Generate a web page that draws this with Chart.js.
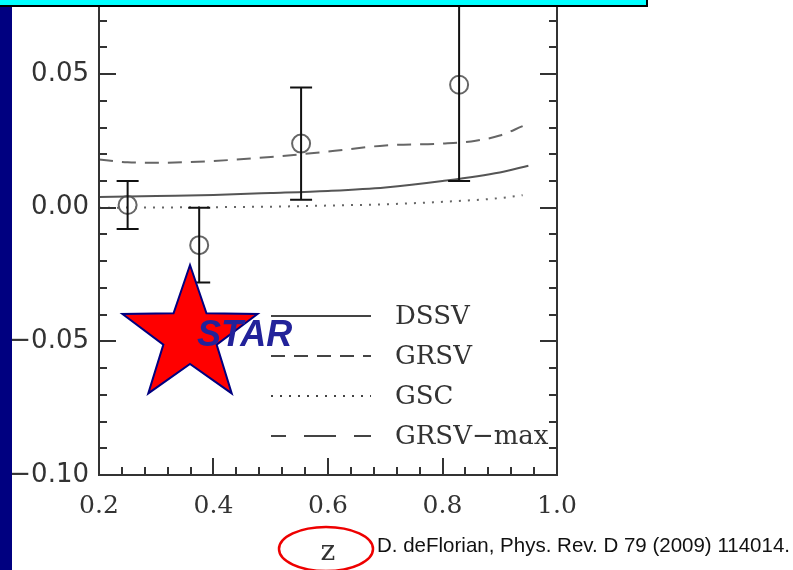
<!DOCTYPE html>
<html>
<head>
<meta charset="utf-8">
<script src="https://cdn.jsdelivr.net/npm/chart.js@4.4.1/dist/chart.umd.min.js"></script>
<style>
  html, body { margin: 0; padding: 0; background: #fff; }
  #wrap { position: relative; width: 793px; height: 570px; overflow: hidden; }
  #navy { position: absolute; left: 0; top: 0; width: 12px; height: 570px; background: #000080; }
  #banner { position: absolute; left: 0; top: 0; width: 646px; height: 5px; background: #00ffff;
            border-right: 2px solid #000; border-bottom: 2px solid #000; }
  canvas { position: absolute; left: 0; top: 0; }
</style>
</head>
<body>
<div id="wrap">
  <canvas id="myChart" width="793" height="570"></canvas>
  <div id="navy"></div>
  <div id="banner"></div>
</div>
<script>
// theory curves
const curveZ = [0.20, 0.25, 0.30, 0.40, 0.50, 0.60, 0.70, 0.80, 0.90, 0.95];
const dssv   = [0.0040, 0.0042, 0.0044, 0.0048, 0.0055, 0.0063, 0.0076, 0.0100, 0.0132, 0.0157];

const grsvZ = [0.20, 0.25, 0.30, 0.40, 0.50, 0.60, 0.70, 0.80, 0.85, 0.90, 0.94];
const grsv  = [0.0180, 0.0170, 0.0168, 0.0175, 0.0190, 0.0210, 0.0233, 0.0240, 0.0248, 0.0270, 0.0305];

const gscZ = [0.20, 0.30, 0.40, 0.50, 0.60, 0.70, 0.80, 0.90, 0.94];
const gsc  = [0.0000, 0.0001, 0.0002, 0.0004, 0.0008, 0.0013, 0.0022, 0.0036, 0.0047];

// STAR data points
const starZ   = [0.25, 0.375, 0.553, 0.829];
const starA   = [0.001, -0.014, 0.024, 0.046];
const starErr = [0.009, 0.014, 0.021, 0.036];

// axis ticks
const xTicks = [0.2, 0.4, 0.6, 0.8, 1.0];
const yTicks = [-0.10, -0.05, 0.00, 0.05];

const citation = 'D. deFlorian, Phys. Rev. D 79 (2009) 114014.';

function pts(xs, ys) {
  return xs.map((x, i) => ({x: x, y: ys[i]}));
}

const extras = {
  id: 'extras',
  afterDraw(chart) {
    const {ctx, chartArea: a, scales: {x, y}} = chart;
    ctx.save();

    // error bars (the frame runs up under the banner, so clip at the canvas top)
    ctx.save();
    ctx.beginPath();
    ctx.rect(a.left, 0, a.right - a.left, a.bottom);
    ctx.clip();
    ctx.strokeStyle = '#111';
    ctx.lineWidth = 2;
    starZ.forEach((z, i) => {
      const px = x.getPixelForValue(z);
      const top = y.getPixelForValue(starA[i] + starErr[i]);
      const bot = y.getPixelForValue(starA[i] - starErr[i]);
      ctx.beginPath();
      ctx.moveTo(px, top); ctx.lineTo(px, bot);
      ctx.moveTo(px - 11, top); ctx.lineTo(px + 11, top);
      ctx.moveTo(px - 11, bot); ctx.lineTo(px + 11, bot);
      ctx.stroke();
    });
    ctx.restore();

    // frame (open at the top, hidden by the banner) and inward ticks
    ctx.strokeStyle = '#333';
    ctx.lineWidth = 2;
    ctx.beginPath();
    ctx.moveTo(a.left, 0); ctx.lineTo(a.left, a.bottom);
    ctx.lineTo(a.right, a.bottom); ctx.lineTo(a.right, 0);
    ctx.stroke();
    ctx.beginPath();
    for (let v = 0.2; v <= 1.0001; v += 0.04) {
      const px = Math.round(x.getPixelForValue(v));
      const major = xTicks.some(t => Math.abs(t - v) < 1e-6);
      const len = major ? 17 : 8;
      ctx.moveTo(px, a.bottom); ctx.lineTo(px, a.bottom - len);
    }
    for (let v = -0.10; v <= 0.0801; v += 0.01) {
      const py = Math.round(y.getPixelForValue(v));
      const major = yTicks.some(t => Math.abs(t - v) < 1e-6);
      const len = major ? 17 : 8;
      ctx.moveTo(a.left, py); ctx.lineTo(a.left + len, py);
      ctx.moveTo(a.right, py); ctx.lineTo(a.right - len, py);
    }
    ctx.stroke();

    // legend
    const rows = [316, 356, 396, 436];
    chart.data.datasets.slice(0, 4).forEach((ds, i) => {
      ctx.save();
      ctx.strokeStyle = '#444';
      ctx.lineWidth = 2;
      ctx.setLineDash(ds.borderDash || []);
      ctx.lineDashOffset = ds.label.indexOf('max') > 0 ? 17 : 0;
      ctx.beginPath();
      ctx.moveTo(271, rows[i]); ctx.lineTo(371, rows[i]);
      ctx.stroke();
      ctx.restore();
      ctx.fillStyle = '#333';
      ctx.font = '26px "DejaVu Serif"';
      ctx.textBaseline = 'middle';
      ctx.fillText(ds.label, 395, rows[i] + 1);
    });

    // STAR logo
    const cx = 190, cy = 336, R = 71, r = 28;
    ctx.beginPath();
    for (let k = 0; k < 10; k++) {
      const ang = -Math.PI / 2 + k * Math.PI / 5;
      const rad = k % 2 === 0 ? R : r;
      const px = cx + rad * Math.cos(ang), py = cy + rad * Math.sin(ang);
      if (k === 0) ctx.moveTo(px, py); else ctx.lineTo(px, py);
    }
    ctx.closePath();
    ctx.fillStyle = '#ff0000';
    ctx.fill();
    ctx.strokeStyle = '#000080';
    ctx.lineWidth = 2;
    ctx.stroke();
    ctx.fillStyle = '#22229a';
    ctx.font = 'italic bold 36px "Liberation Sans"';
    ctx.textBaseline = 'alphabetic';
    ctx.fillText('STAR', 197, 346);

    // circle around axis title
    ctx.beginPath();
    ctx.ellipse(326, 549, 47, 22, 0, 0, Math.PI * 2);
    ctx.strokeStyle = '#ee0000';
    ctx.lineWidth = 2.5;
    ctx.stroke();

    // citation
    ctx.fillStyle = '#111';
    ctx.font = '21px "Liberation Sans"';
    ctx.fillText(citation, 377, 552, 413);

    ctx.restore();
  }
};

const ctx = document.getElementById('myChart');
const myChart = new Chart(ctx, {
  type: 'scatter',
  data: {
    datasets: [
      {type: 'line', label: 'DSSV', data: pts(curveZ, dssv), borderColor: '#555', borderWidth: 2,
       pointRadius: 0, cubicInterpolationMode: 'monotone', fill: false},
      {type: 'line', label: 'GRSV', data: pts(grsvZ, grsv), borderColor: '#666', borderWidth: 2,
       borderDash: [14, 9], pointRadius: 0, cubicInterpolationMode: 'monotone', fill: false},
      {type: 'line', label: 'GSC', data: pts(gscZ, gsc), borderColor: '#666', borderWidth: 2,
       borderDash: [2, 7], pointRadius: 0, cubicInterpolationMode: 'monotone', fill: false},
      {type: 'line', label: 'GRSV\u2212max', data: [], borderColor: '#444', borderWidth: 2,
       borderDash: [32, 18], pointRadius: 0, fill: false},
      {type: 'scatter', label: 'STAR', data: pts(starZ, starA), pointRadius: 9, pointHoverRadius: 9,
       borderColor: '#666', borderWidth: 2, backgroundColor: 'rgba(0,0,0,0)'}
    ]
  },
  options: {
    responsive: false,
    animation: false,
    devicePixelRatio: 1,
    layout: {padding: {left: 0, right: 236, top: 7, bottom: 0}},
    plugins: {legend: {display: false}, tooltip: {enabled: false}},
    scales: {
      x: {
        type: 'linear', min: 0.2, max: 1.0,
        grid: {display: false, drawTicks: false},
        border: {display: false},
        afterBuildTicks: s => { s.ticks = xTicks.map(v => ({value: v})); },
        afterFit: s => { s.height = 95; s.paddingLeft = 0; s.paddingRight = 0; },
        ticks: {
          padding: 16, color: '#333',
          font: {family: '"DejaVu Serif"', size: 25},
          callback: v => v.toFixed(1)
        },
        title: {display: true, text: 'z', color: '#333', padding: {top: 0, bottom: 0},
                font: {family: '"DejaVu Serif"', size: 28}}
      },
      y: {
        type: 'linear', min: -0.10, max: 0.0736,
        grid: {display: false, drawTicks: false},
        border: {display: false},
        afterBuildTicks: s => { s.ticks = yTicks.map(v => ({value: v})); },
        afterFit: s => { s.width = 99; s.paddingTop = 0; s.paddingBottom = 0; },
        ticks: {
          padding: 10, color: '#333',
          font: {family: '"DejaVu Sans"', size: 26},
          callback: v => (v < 0 ? '\u2212' : '') + Math.abs(v).toFixed(2)
        }
      }
    }
  },
  plugins: [extras]
});
</script>
</body>
</html>
